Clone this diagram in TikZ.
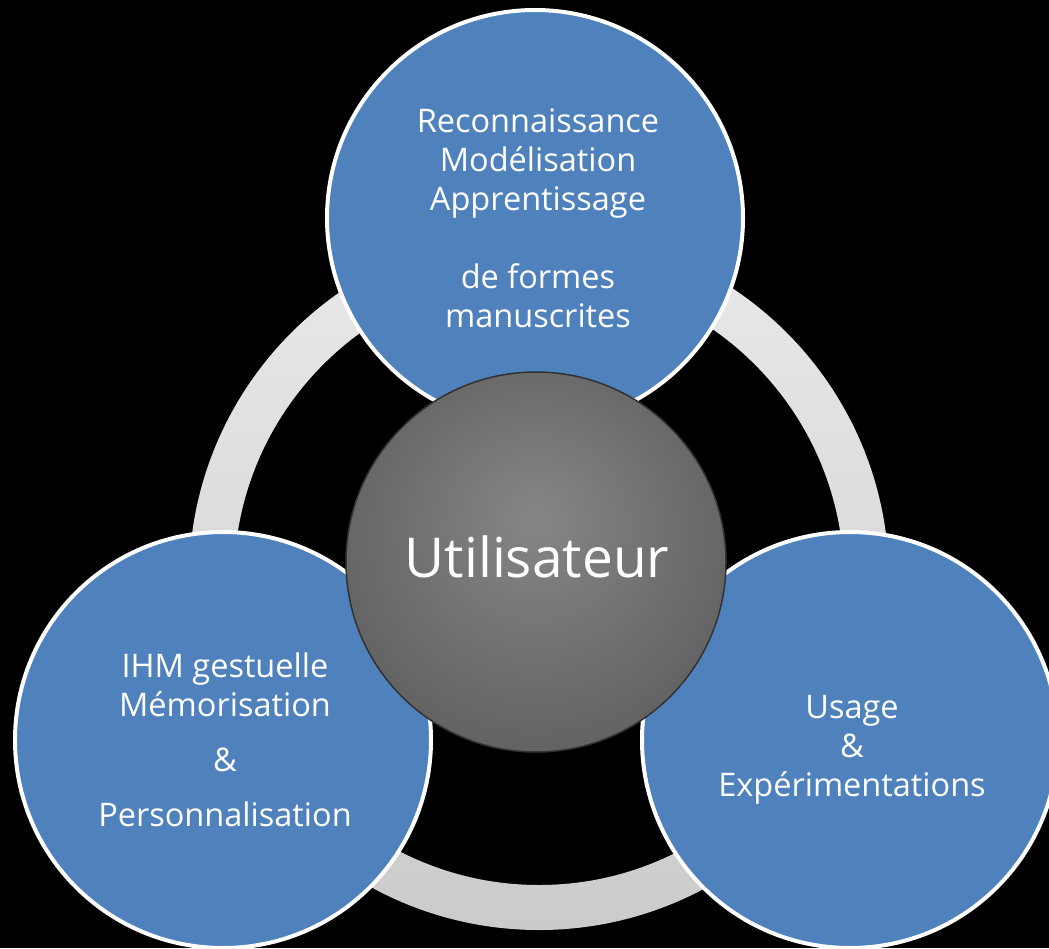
\documentclass[tikz,border=0pt]{standalone}
\usepackage{fontspec}
\setmainfont{Open Sans}
\definecolor{blueA}{HTML}{4F81BD}
\definecolor{ringT}{HTML}{E9E9E9}
\definecolor{ringB}{HTML}{CBCBCB}
\definecolor{sphC}{RGB}{134,134,134}
\definecolor{sphM}{RGB}{98,98,98}
\definecolor{sphE}{RGB}{66,66,66}
\definecolor{sphR}{RGB}{50,50,50}
\pgfdeclareradialshading{spherebg}{\pgfpoint{0bp}{6bp}}{color(0bp)=(sphC); color(28bp)=(sphM); color(46bp)=(sphE); color(50bp)=(sphE)}
\tikzset{
  topic/.style={circle, fill=blueA, draw=white, line width=4pt, minimum size=416pt, inner sep=0pt},
  topictext/.style={text=white, align=center, inner sep=0pt, font=\fontsize{32.5}{39}\selectfont},
  hub/.style={circle, shade, shading=spherebg, draw=sphR, line width=1.5pt, minimum size=380pt, inner sep=0pt},
  hubtext/.style={text=white, inner sep=0pt, font=\fontsize{55}{60}\selectfont}
}
\begin{document}
\begin{tikzpicture}[x=1pt, y=-1pt]
\useasboundingbox (0,0) rectangle (1049,948);
\fill[black] (0,0) rectangle (1049,948);
\coordinate (ringc) at (539,580);
\shade[top color=ringT, bottom color=ringB, even odd rule] (ringc) circle (350) (ringc) circle (305);
\node[topic] (c1) at (535,218) {};
\node[topic] (c2) at (223,740) {};
\node[topic] (c3) at (850,740) {};
\node[topictext] (t1) at (538,218) {Reconnaissance\\Modélisation\\Apprentissage\\[39pt]de formes\\manuscrites};
\node[topictext] (t2) at (225,740) {IHM gestuelle\\Mémorisation\\[16pt]\&\\[16pt]Personnalisation};
\node[topictext] (t3) at (852,750) {Usage\\\&\\Expérimentations};
\node[hub] (user) at (536,562) {};
\node[hubtext] (ut) at (537,557) {Utilisateur};
\end{tikzpicture}
\end{document}
